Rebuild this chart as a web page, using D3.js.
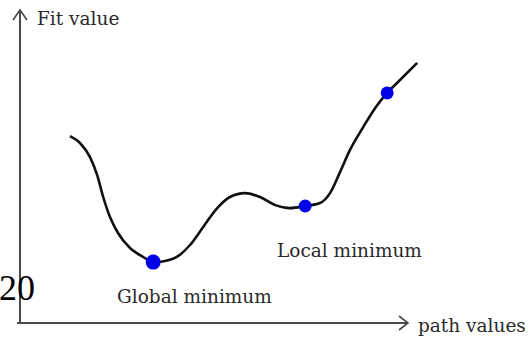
<!DOCTYPE html>
<html>
<head>
<meta charset="utf-8">
<script src="https://cdn.jsdelivr.net/npm/d3@7"></script>
<style>
  body { margin:0; background:#fff; }
  svg { display:block; }
  .lbl { font-family:"DejaVu Serif", serif; font-size:18.5px; fill:#2a2a2a; }
</style>
</head>
<body>
<div id="chart"></div>
<script>
var W = 528, H = 339;

// curve (path value, fit value)
var pathVals = [12.5, 15, 17.5, 19.3, 20.8, 22.5, 24.5, 27.5, 30.8, 33.3, 36.3, 39.5, 42.5, 45.8, 49.3, 52.5, 56.3, 60, 63.8, 67.5, 71.3, 75, 77.5, 80, 82.5, 85.8, 88.8, 91.8, 95, 99.3];
var fitVals  = [62.3, 60, 55.3, 49.3, 42, 35.3, 30, 25, 22, 20.3, 20.7, 22.3, 26, 32, 38.3, 42, 43.3, 42, 39.3, 38.3, 39, 40, 43.3, 50.3, 57.7, 65.3, 71.7, 76.7, 81, 86.7];
// highlighted points
var dotPath = [33.3, 71.3, 91.8];
var dotFit  = [20.3, 39, 76.7];
var dotSize = [7.5, 6.5, 6.5];

var svg = d3.select("#chart").append("svg")
  .attr("width", W).attr("height", H);

var x = d3.scaleLinear().domain([0, 100]).range([20, 420]);
var y = d3.scaleLinear().domain([0, 100]).range([323, 23]);

var axisColor = "#4a4a4a";

// y axis with open arrow
svg.append("line")
  .attr("x1", x(0)).attr("x2", x(0))
  .attr("y1", 323).attr("y2", 10)
  .attr("stroke", axisColor).attr("stroke-width", 2);
svg.append("path")
  .attr("d", "M13,20 L20,10 L27,20")
  .attr("fill", "none").attr("stroke", axisColor).attr("stroke-width", 1.6);

// x axis with open arrow
svg.append("line")
  .attr("x1", 17).attr("x2", 407)
  .attr("y1", y(0)).attr("y2", y(0))
  .attr("stroke", axisColor).attr("stroke-width", 2);
svg.append("path")
  .attr("d", "M399,316 L408,323 L399,330")
  .attr("fill", "none").attr("stroke", axisColor).attr("stroke-width", 1.6);

var pts = pathVals.map(function(d, i) { return [d, fitVals[i]]; });

svg.append("path")
  .datum(pts)
  .attr("fill", "none")
  .attr("stroke", "#111")
  .attr("stroke-width", 2.6)
  .attr("stroke-linejoin", "round")
  .attr("d", d3.line()
    .x(function(d) { return x(d[0]); })
    .y(function(d) { return y(d[1]); })
    .curve(d3.curveMonotoneX));

svg.selectAll(".dot")
  .data(dotPath)
  .join("circle")
  .attr("class", "dot")
  .attr("cx", function(d) { return x(d); })
  .attr("cy", function(d, i) { return y(dotFit[i]); })
  .attr("r", function(d, i) { return dotSize[i]; })
  .attr("fill", "#0000e6");

svg.append("text").attr("class", "lbl").attr("x", 37).attr("y", 25).text("Fit value");
svg.append("text").attr("class", "lbl").attr("x", 117).attr("y", 303).text("Global minimum");
svg.append("text").attr("class", "lbl").attr("x", 277).attr("y", 257).text("Local minimum");
svg.append("text").attr("class", "lbl").attr("x", 418).attr("y", 332).text("path values");

svg.append("text")
  .attr("x", -1).attr("y", 300)
  .attr("font-family", "Liberation Serif, serif")
  .attr("font-size", 36)
  .attr("fill", "#000")
  .text("20");
</script>
</body>
</html>
